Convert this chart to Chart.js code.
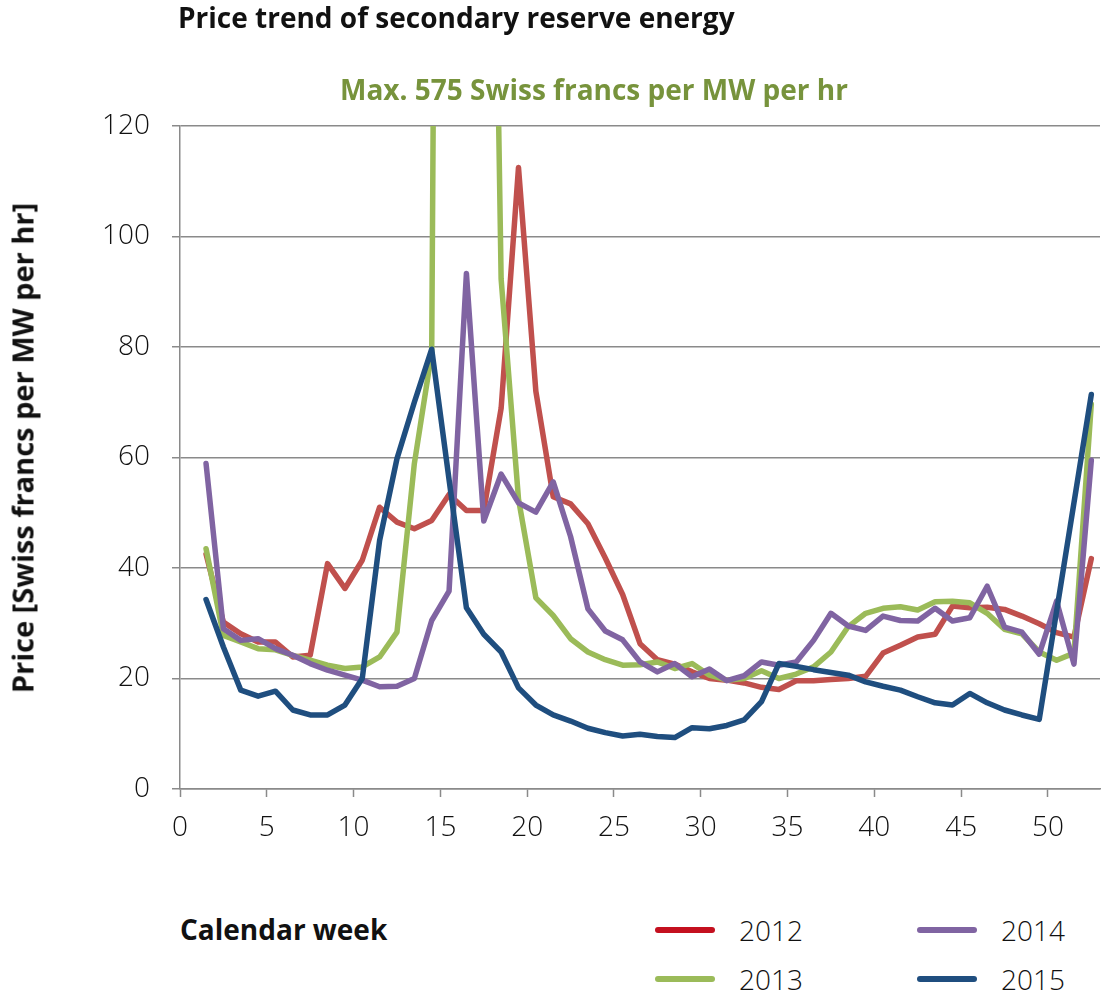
<!DOCTYPE html>
<html>
<head>
<meta charset="utf-8">
<title>Price trend of secondary reserve energy</title>
<script src="https://cdn.jsdelivr.net/npm/chart.js@4.4.1/dist/chart.umd.min.js"></script>
<style>
  html, body { margin: 0; padding: 0; background: #fff; }
  body {
    width: 1104px; height: 1005px; position: relative; overflow: hidden;
    font-family: 'Open Sans', 'Noto Sans', sans-serif; color: #111;
  }
  #priceChart { position: absolute; left: 0; top: 0; }
  .label { position: absolute; white-space: nowrap; line-height: 1; }
  .title { left: 178px; top: 3px; font-size: 28px; font-weight: 700; }
  .subtitle { left: 340px; top: 75px; font-size: 28px; font-weight: 700; color: #77933c; }
  .y-title {
    left: 22px; top: 448px; font-size: 29px; font-weight: 700;
    transform: translate(-50%, -50%) rotate(-90deg);
  }
  .x-title { left: 180px; top: 915px; font-size: 28px; font-weight: 700; }
  .legend-swatch { position: absolute; width: 60px; height: 6px; border-radius: 3px; }
  .legend-text { font-size: 28px; font-weight: 300; }
</style>
</head>
<body>
<canvas id="priceChart" width="1104" height="870"></canvas>
<div class="label title">Price trend of secondary reserve energy</div>
<div class="label subtitle">Max. 575 Swiss francs per MW per hr</div>
<div class="label y-title">Price [Swiss francs per MW per hr]</div>
<div class="label x-title">Calendar week</div>
<div id="legend"></div>
<script>
// Calendar weeks (points sit in the middle of each week).
const weekPos = [
  1.5, 2.5, 3.5, 4.5, 5.5, 6.5, 7.5, 8.5, 9.5, 10.5, 11.5, 12.5, 13.5,
  14.5, 15.5, 16.5, 17.5, 18.5, 19.5, 20.5, 21.5, 22.5, 23.5, 24.5, 25.5, 26.5,
  27.5, 28.5, 29.5, 30.5, 31.5, 32.5, 33.5, 34.5, 35.5, 36.5, 37.5, 38.5, 39.5,
  40.5, 41.5, 42.5, 43.5, 44.5, 45.5, 46.5, 47.5, 48.5, 49.5, 50.5, 51.5, 52.5
];

// Prices in Swiss francs per MW per hr.
const price2012 = [
  42.5, 30.2, 28.1, 26.6, 26.6, 23.9, 24.2, 40.8, 36.3, 41.4, 51.0, 48.3, 47.1,
  48.6, 53.3, 50.4, 50.4, 68.9, 112.5, 72.0, 52.9, 51.6, 48.0, 41.8, 35.2, 26.3,
  23.4, 22.6, 21.2, 20.0, 19.7, 19.2, 18.4, 18.0, 19.6, 19.6, 19.8, 20.0, 20.4,
  24.6, 26.0, 27.5, 28.0, 33.1, 32.8, 32.9, 32.5, 31.3, 29.9, 28.3, 27.5, 41.7
];
const price2013 = [
  43.5, 27.8, 26.6, 25.4, 25.2, 24.2, 23.3, 22.4, 21.8, 22.1, 23.9, 28.4, 58.9,
  79.0, 575.0, 470.0, 290.0, 92.3, 52.5, 34.6, 31.4, 27.2, 24.8, 23.4, 22.4, 22.5,
  23.0, 21.8, 22.7, 20.6, 19.7, 20.0, 21.4, 20.0, 20.8, 22.1, 24.8, 29.4, 31.8,
  32.7, 33.0, 32.4, 33.9, 34.0, 33.7, 31.8, 28.9, 28.1, 24.8, 23.3, 24.6, 69.7
];
const price2014 = [
  58.9, 29.0, 26.9, 27.2, 25.4, 24.2, 22.7, 21.5, 20.6, 19.7, 18.5, 18.6, 20.0,
  30.5, 35.8, 93.3, 48.5, 57.0, 51.8, 50.1, 55.6, 45.7, 32.6, 28.6, 27.0, 23.0,
  21.2, 22.7, 20.3, 21.7, 19.6, 20.5, 23.0, 22.4, 23.0, 26.9, 31.8, 29.5, 28.7,
  31.3, 30.5, 30.4, 32.7, 30.4, 31.0, 36.7, 29.3, 28.4, 24.4, 34.0, 22.6, 59.5
];
const price2015 = [
  34.3, 25.7, 17.9, 16.8, 17.7, 14.3, 13.4, 13.4, 15.2, 20.0, 45.0, 59.8, 70.0,
  79.6, 56.0, 32.8, 28.0, 24.8, 18.3, 15.2, 13.4, 12.3, 11.0, 10.2, 9.6, 9.9,
  9.5, 9.3, 11.1, 10.9, 11.5, 12.5, 15.8, 22.7, 22.2, 21.6, 21.1, 20.6, 19.4,
  18.6, 17.9, 16.7, 15.6, 15.2, 17.3, 15.6, 14.3, 13.4, 12.6, 32.2, 51.8, 71.4
];

const xTicks = [0, 5, 10, 15, 20, 25, 30, 35, 40, 45, 50];
const yTicks = [0, 20, 40, 60, 80, 100, 120];

const series = [
  { label: '2012', values: price2012, color: '#c0504d', legendColor: '#c4101f', order: 4 },
  { label: '2013', values: price2013, color: '#9bbb59', legendColor: '#9bbb59', order: 3 },
  { label: '2014', values: price2014, color: '#8064a2', legendColor: '#8064a2', order: 2 },
  { label: '2015', values: price2015, color: '#1f4e7f', legendColor: '#1f4e7f', order: 1 }
];

const AXIS_GREY = '#8a8a8a';
const tickFont = { family: "'Open Sans', 'Noto Sans', sans-serif", size: 28, weight: '300' };

new Chart(document.getElementById('priceChart'), {
  type: 'line',
  data: {
    datasets: series.map((s) => ({
      label: s.label,
      data: weekPos.map((x, i) => ({ x, y: s.values[i] })),
      borderColor: s.color,
      backgroundColor: s.color,
      borderWidth: 5.5,
      borderCapStyle: 'round',
      borderJoinStyle: 'round',
      pointRadius: 0,
      tension: 0,
      clip: 0,
      order: s.order
    }))
  },
  options: {
    responsive: false,
    animation: false,
    devicePixelRatio: 1,
    layout: { padding: { top: 126, right: 4, left: 0, bottom: 0 } },
    plugins: {
      legend: { display: false },
      tooltip: { enabled: false }
    },
    scales: {
      x: {
        type: 'linear',
        min: 0,
        max: 53,
        afterFit: (scale) => { scale.height = 81; },
        afterBuildTicks: (scale) => { scale.ticks = xTicks.map((v) => ({ value: v })); },
        ticks: { font: tickFont, color: '#111', padding: 14, maxRotation: 0 },
        grid: { drawOnChartArea: false, drawTicks: true, tickLength: 8, tickColor: AXIS_GREY, tickWidth: 1.5 },
        border: { color: AXIS_GREY, width: 1.5 }
      },
      y: {
        min: 0,
        max: 120,
        afterFit: (scale) => { scale.width = 180; },
        afterBuildTicks: (scale) => { scale.ticks = yTicks.map((v) => ({ value: v })); },
        ticks: { font: tickFont, color: '#111', padding: 22 },
        grid: { color: AXIS_GREY, lineWidth: 1.5, drawTicks: true, tickLength: 8, tickColor: AXIS_GREY },
        border: { color: AXIS_GREY, width: 1.5 }
      }
    }
  }
});

// Two-column legend in the lower right corner.
const legendSlots = [
  { left: 655, top: 930 },
  { left: 655, top: 979 },
  { left: 917, top: 930 },
  { left: 917, top: 979 }
];
const legend = document.getElementById('legend');
series.forEach((s, i) => {
  const slot = legendSlots[i];
  const swatch = document.createElement('div');
  swatch.className = 'legend-swatch';
  swatch.style.left = slot.left + 'px';
  swatch.style.top = (slot.top - 3) + 'px';
  swatch.style.background = s.legendColor;
  legend.appendChild(swatch);

  const text = document.createElement('div');
  text.className = 'label legend-text';
  text.style.left = (slot.left + 84) + 'px';
  text.style.top = (slot.top - 14) + 'px';
  text.textContent = s.label;
  legend.appendChild(text);
});
</script>
</body>
</html>
